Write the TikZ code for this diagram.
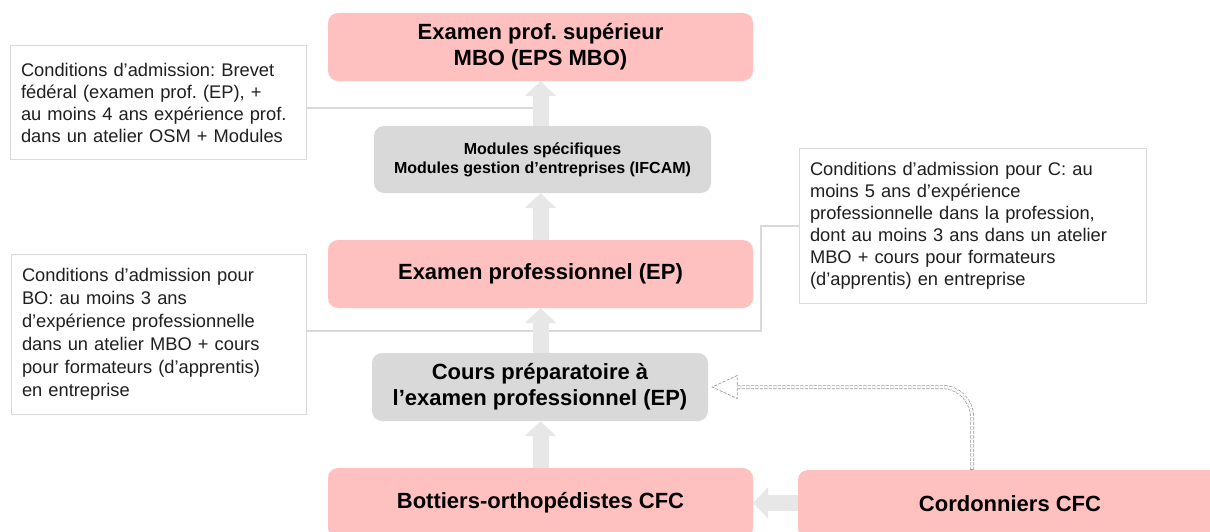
\documentclass[tikz,border=0pt]{standalone}
\usepackage{fontspec}
\setmainfont{Liberation Sans}
\usetikzlibrary{arrows.meta,calc}
\definecolor{pinkbox}{RGB}{255,192,192}
\definecolor{graybox}{RGB}{217,217,217}
\definecolor{arrowgray}{RGB}{231,231,231}
\definecolor{linegray}{RGB}{217,217,217}
\definecolor{dashgray}{RGB}{150,150,150}
\frenchspacing
\begin{document}
\begin{tikzpicture}[x=1pt,y=-1pt,
 pinknode/.style={fill=pinkbox, rounded corners=10pt, minimum width=425pt, minimum height=68pt, align=center, font=\fontsize{22}{26}\selectfont\bfseries, inner sep=0pt},
 graynode/.style={fill=graybox, rounded corners=10pt, minimum width=336pt, minimum height=68pt, align=center, inner sep=0pt},
 condbox/.style={draw=linegray, line width=1pt, fill=white, align=left, font=\fontsize{18.3}{22}\selectfont, inner xsep=11pt, inner ysep=0pt, text=black!88},
 blockarrow/.style={draw=arrowgray, line width=16pt, -{Triangle[width=31pt,length=15pt]}},
 link/.style={draw=linegray, line width=1.2pt},
 dashdbl/.style={draw=dashgray, line width=0.7pt, double=white, double distance=2.6pt, dash pattern=on 3pt off 1.5pt, rounded corners=30pt},
 dashhead/.style={draw=dashgray, line width=0.7pt, dash pattern=on 3pt off 1.5pt, line join=miter}
]
\useasboundingbox (0,0) rectangle (1210,532);
\clip (0,0) rectangle (1210,532);

% main boxes
\node[pinknode] (top) at (540.5,47) {Examen prof. supérieur\\MBO (EPS MBO)};
\node[graynode, minimum width=337pt, minimum height=67pt, font=\fontsize{16}{19}\selectfont\bfseries] (mod) at (542.5,159.5) {Modules spécifiques\\Modules gestion d’entreprises (IFCAM)};
\node[pinknode] (ep) at (540.5,274) {Examen professionnel (EP)};
\node[graynode, font=\fontsize{22}{26}\selectfont\bfseries] (cours) at (540,387) {Cours préparatoire à\\l’examen professionnel (EP)};
\node[pinknode, minimum height=70pt] (bot) at (540.5,503) {Bottiers-orthopédistes CFC};
\node[pinknode, minimum width=424pt] (cor) at (1010,504) {Cordonniers CFC};

% condition boxes
\node[condbox, text width=274pt, minimum height=114pt] (c1) at (158,103)
 {Conditions d’admission: Brevet\\fédéral (examen prof. (EP), +\\au moins 4 ans expérience prof.\\dans un atelier OSM + Modules};
\node[condbox, text width=273pt, minimum height=160pt, font=\fontsize{18.3}{23}\selectfont] (c2) at (158.5,334)
 {Conditions d’admission pour\\BO: au moins 3 ans\\d’expérience professionnelle\\dans un atelier MBO + cours\\pour formateurs (d’apprentis)\\en entreprise};
\node[condbox, text width=325pt, minimum height=154pt] (c3) at (972.5,226)
 {Conditions d’admission pour C: au\\moins 5 ans d’expérience\\professionnelle dans la profession,\\dont au moins 3 ans dans un atelier\\MBO + cours pour formateurs\\(d’apprentis) en entreprise};

% junctions
\coordinate (j1) at (541,108);
\coordinate (j2) at (541,331);
\coordinate (k) at (761,331);

% links
\draw[link] (c1.east |- j1) -- (j1);
\draw[link] (c2.east |- j2) -- (j2);
\draw[link] (c3.west) -| (k) -- (j2);

% block arrows
\draw[blockarrow] (mod.north -| top.south) -- (top.south);
\draw[blockarrow] (ep.north -| top.south) -- (mod.south -| top.south);
\draw[blockarrow] (cours.north -| top.south) -- (ep.south -| top.south);
\draw[blockarrow] (bot.north -| top.south) -- (cours.south -| top.south);
\draw[blockarrow] (cor.west |- bot.east) -- (bot.east);

% dashed double arrow from Cordonniers to Cours
\coordinate (s) at ($(cor.north)+(-38,0)$);
\coordinate (tip) at ($(cours.east)+(4,0)$);
\draw[dashdbl] (s) |- ($(tip)+(25,0)$);
\draw[dashhead] ($(tip)+(25,-2.2)$) -- ($(tip)+(25,-11.5)$) -- (tip) -- ($(tip)+(25,11.5)$) -- ($(tip)+(25,2.2)$);
\draw[dashhead] ($(s)+(-2.2,0)$) -- ($(s)+(2.2,0)$);
\end{tikzpicture}
\end{document}
